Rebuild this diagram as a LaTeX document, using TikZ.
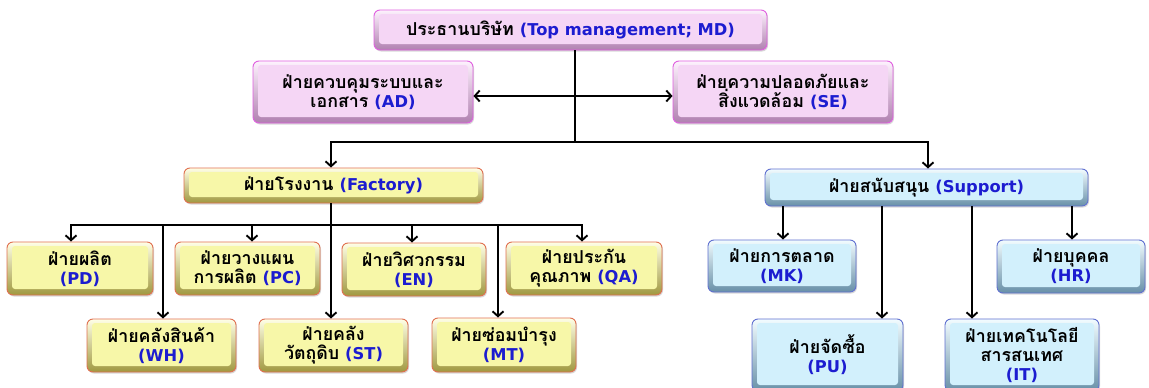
\documentclass[tikz,border=0pt]{standalone}
\usepackage{fontspec}
\newfontfamily\thaifont[Script=Thai]{Loma}
\newfontfamily\latfont{DejaVu Sans}
\usetikzlibrary{arrows.meta,calc,shadows}
\definecolor{engblue}{HTML}{1C1CD0}
\definecolor{pinkb}{HTML}{E060E0}
\definecolor{pinkt}{HTML}{FDF2FD}
\definecolor{pinkd}{HTML}{B080B0}
\definecolor{pinkf}{HTML}{F5D6F5}
\definecolor{yelb}{HTML}{E07050}
\definecolor{yelt}{HTML}{FFFFE6}
\definecolor{yeld}{HTML}{A09840}
\definecolor{yelf}{HTML}{F7F7A8}
\definecolor{blub}{HTML}{6070D0}
\definecolor{blut}{HTML}{F2FCFF}
\definecolor{blud}{HTML}{6890A8}
\definecolor{bluf}{HTML}{D2F0FC}
\newcommand\eng[1]{{\latfont\bfseries\fontsize{16.3}{19}\selectfont\color{engblue}#1}}
\tikzset{
  box/.style={rounded corners=6pt, line width=0.9pt, align=center, inner sep=0pt,
    font=\thaifont\bfseries\fontsize{17.8}{19}\selectfont, text=black,
    drop shadow={shadow xshift=1pt, shadow yshift=-1.5pt, opacity=0.3}},
  face/.style={path picture={\fill[#1, rounded corners=3pt]
      ($(path picture bounding box.north west)+(5pt,-4pt)$) rectangle
      ($(path picture bounding box.south east)+(-5pt,6pt)$);}},
  pinkbox/.style={box, draw=pinkb, top color=pinkt, bottom color=pinkd, face=pinkf},
  yelbox/.style={box, draw=yelb, top color=yelt, bottom color=yeld, face=yelf},
  blubox/.style={box, draw=blub, top color=blut, bottom color=blud, face=bluf},
  link/.style={line width=1.9pt, black},
  arr/.style={link, -{Straight Barb[length=5pt,width=11pt]}},
  darr/.style={link, {Straight Barb[length=5pt,width=11pt]}-{Straight Barb[length=5pt,width=11pt]}},
}
\begin{document}
\begin{tikzpicture}[x=1pt,y=-1pt]
\useasboundingbox[fill=white] (0,0) rectangle (1149,388);
% top level
\node[pinkbox, minimum width=393, minimum height=40] (top) at (570.5,30) {ประธานบริษัท \eng{(Top management; MD)}};
\node[pinkbox, minimum width=220, minimum height=62] (ad) at (363,92) {ฝ่ายควบคุมระบบและ\\เอกสาร \eng{(AD)}};
\node[pinkbox, minimum width=220, minimum height=62] (se) at (783,92) {ฝ่ายความปลอดภัยและ\\สิ่งแวดล้อม \eng{(SE)}};
% second level
\node[yelbox, minimum width=299, minimum height=35] (fac) at (333.5,185.5) {ฝ่ายโรงงาน \eng{(Factory)}};
\node[blubox, minimum width=323, minimum height=37] (sup) at (926.5,187.5) {ฝ่ายสนับสนุน \eng{(Support)}};
% factory children
\node[yelbox, minimum width=146, minimum height=53] (pd) at (80,268.5) {ฝ่ายผลิต\\\eng{(PD)}};
\node[yelbox, minimum width=145, minimum height=53] (pc) at (247.5,268.5) {ฝ่ายวางแผน\\การผลิต \eng{(PC)}};
\node[yelbox, minimum width=144, minimum height=53] (en) at (414,269.5) {ฝ่ายวิศวกรรม\\\eng{(EN)}};
\node[yelbox, minimum width=156, minimum height=53] (qa) at (584,268.5) {ฝ่ายประกัน\\คุณภาพ \eng{(QA)}};
\node[yelbox, minimum width=149, minimum height=53] (wh) at (161.5,345.5) {ฝ่ายคลังสินค้า\\\eng{(WH)}};
\node[yelbox, minimum width=149, minimum height=53] (st) at (333.5,345.5) {ฝ่ายคลัง\\วัตถุดิบ \eng{(ST)}};
\node[yelbox, minimum width=144, minimum height=54] (mt) at (504,345) {ฝ่ายซ่อมบำรุง\\\eng{(MT)}};
% support children
\node[blubox, minimum width=148, minimum height=52] (mk) at (782,266) {ฝ่ายการตลาด\\\eng{(MK)}};
\node[blubox, minimum width=148, minimum height=53] (hr) at (1071,266.5) {ฝ่ายบุคคล\\\eng{(HR)}};
\node[blubox, minimum width=151, minimum height=72] (pu) at (827.5,355) {ฝ่ายจัดซื้อ\\\eng{(PU)}};
\node[blubox, minimum width=154, minimum height=72] (it) at (1022,355) {ฝ่ายเทคโนโลยี\\สารสนเทศ\\\eng{(IT)}};
% junction coordinates
\coordinate (jt) at (575,142);
\coordinate (jf) at (331,225);
% connectors: top
\draw[link] (top.south -| jt) -- (jt);
\draw[darr] ([yshift=-4pt]ad.east) -- ([yshift=-4pt]se.west);
\draw[arr] (jt) -| ([xshift=-2.5pt]fac.north);
\draw[arr] (jt) -| ([xshift=1.5pt]sup.north);
% factory
\draw[link] (fac.south -| jf) -- (jf);
\draw[arr] (jf) -| ([xshift=-9pt]pd.north);
\draw[arr] (jf) -| ([xshift=4.5pt]pc.north);
\draw[arr] (jf) -| ([xshift=-2pt]en.north);
\draw[arr] (jf) -| ([xshift=-2pt]qa.north);
\draw[arr] (jf) -| ([xshift=1.5pt]wh.north);
\draw[arr] (jf) -- (st.north -| jf);
\draw[arr] (jf) -| ([xshift=-6pt]mt.north);
% support
\coordinate (mka) at ([xshift=1pt]mk.north);
\coordinate (hra) at ([xshift=1pt]hr.north);
\coordinate (pua) at ([xshift=54.5pt]pu.north);
\coordinate (ita) at ([xshift=-50pt]it.north);
\draw[arr] (sup.south -| mka) -- (mka);
\draw[arr] (sup.south -| hra) -- (hra);
\draw[arr] (sup.south -| pua) -- (pua);
\draw[arr] (sup.south -| ita) -- (ita);
\end{tikzpicture}
\end{document}
